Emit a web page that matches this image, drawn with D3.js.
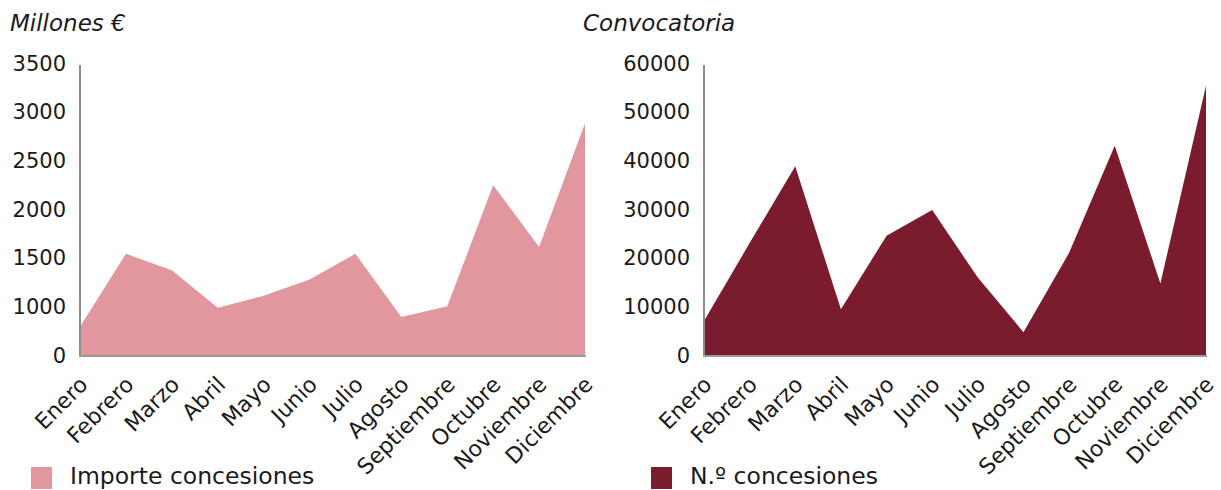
<!DOCTYPE html>
<html><head><meta charset="utf-8">
<script src="https://cdn.jsdelivr.net/npm/d3@7"></script>
<style>
body{margin:0;background:#fff;}
svg text{font-family:"DejaVu Sans",Lato,sans-serif;fill:#1a1a1a;}
</style></head>
<body>
<svg id="c" width="1221" height="490"></svg>
<script>
const months = ["Enero","Febrero","Marzo","Abril","Mayo","Junio","Julio","Agosto","Septiembre","Octubre","Noviembre","Diciembre"];
const importe = [790,1540,1370,985,1110,1275,1540,890,1000,2245,1610,2880];
const concesiones = [7000,23000,38800,9400,24500,29800,15900,4700,21000,43000,14700,55300];
const leftTicks = [500,1000,1500,2000,2500,3000,3500];
const leftTickLabels = ["0","1000","1500","2000","2500","3000","3500"];
const rightTicks = [0,10000,20000,30000,40000,50000,60000];
const rightTickLabels = ["0","10000","20000","30000","40000","50000","60000"];

const svg = d3.select("#c");
const plotTop = 63, plotBottom = 355;

function panel(opts){
  const g = svg.append("g");
  const x = d3.scalePoint().domain(months).range([opts.x0, opts.x1]);
  const y = d3.scaleLinear().domain(opts.domain).range([plotBottom, plotTop]);
  const area = d3.area().x(d=>x(d.m)).y0(plotBottom).y1(d=>y(d.v));
  g.append("path").datum(months.map((m,i)=>({m, v:opts.values[i]})))
    .attr("d", area).attr("fill", opts.color);
  g.append("line").attr("x1",opts.x0).attr("x2",opts.x0).attr("y1",plotTop+2).attr("y2",plotBottom+1)
    .attr("stroke","#8c8c8c").attr("stroke-width",2);
  g.append("line").attr("x1",opts.x0-1).attr("x2",opts.x1+1).attr("y1",plotBottom+1).attr("y2",plotBottom+1)
    .attr("stroke","#9a9a9a").attr("stroke-width",2);
  g.selectAll("text.yt").data(opts.ticks).join("text").attr("class","yt")
    .attr("x", opts.x0-14).attr("y", d=>y(d)).attr("dy","0.36em")
    .attr("text-anchor","end").style("font-size","21px")
    .text((d,i)=>opts.tickLabels[i]);
  g.selectAll("text.xt").data(months).join("text").attr("class","xt")
    .attr("transform", d=>`translate(${x(d)+9},${plotBottom+31}) rotate(-45)`)
    .attr("text-anchor","end").style("font-size","22px").text(d=>d);
  g.append("text").attr("x",opts.tx).attr("y",31).style("font-size","23px")
    .style("font-style","italic").text(opts.title);
  g.append("rect").attr("x",opts.lx).attr("y",467).attr("width",21).attr("height",22).attr("fill",opts.color);
  g.append("text").attr("x",opts.lx+39).attr("y",484).style("font-size","23.5px").text(opts.legend);
}

panel({x0:80,x1:585,domain:[500,3500],values:importe,color:"#E2979F",ticks:leftTicks,tickLabels:leftTickLabels,
  title:"Millones €",tx:10,lx:31,legend:"Importe concesiones"});
panel({x0:704,x1:1206,domain:[0,60000],values:concesiones,color:"#7B1C2E",ticks:rightTicks,tickLabels:rightTickLabels,
  title:"Convocatoria",tx:583,lx:651,legend:"N.º concesiones"});
</script>
</body></html>
